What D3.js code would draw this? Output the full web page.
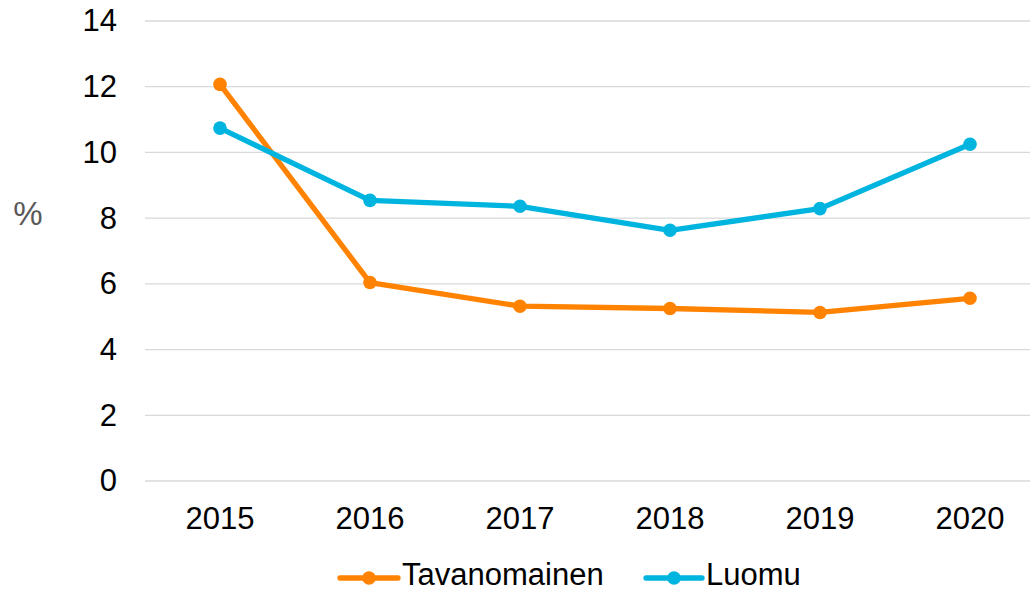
<!DOCTYPE html>
<html>
<head>
<meta charset="utf-8">
<script src="https://cdn.jsdelivr.net/npm/d3@7"></script>
<style>
  body { margin: 0; background: #fff; }
  text { font-family: "Liberation Sans", Arial, sans-serif; }
</style>
</head>
<body>
<svg id="chart"></svg>
<script>
const years = ['2015', '2016', '2017', '2018', '2019', '2020'];
const tavanomainen = [12.07, 6.04, 5.32, 5.25, 5.13, 5.56];
const luomu = [10.74, 8.54, 8.36, 7.63, 8.29, 10.25];
const yTicks = [0, 2, 4, 6, 8, 10, 12, 14];
const seriesNames = ['Tavanomainen', 'Luomu'];
const seriesColors = ['#FF8300', '#00B4E0'];

(function() {
  const svgDim = { w: 1030, h: 592 },
    margin = { l: 145, r: 0, t: 21, b: 111 },
    fontSize = 31,
    $svg = d3.select('#chart').attr('width', svgDim.w).attr('height', svgDim.h);

  const xScale = d3.scaleBand()
      .domain(years)
      .range([margin.l, 1045]),
    yScale = d3.scaleLinear()
      .domain([0, 14])
      .range([svgDim.h - margin.b, margin.t]);

  // gridlines
  $svg.append('g').selectAll('line')
    .data(yTicks)
    .enter()
    .append('line')
    .attr('x1', margin.l)
    .attr('x2', svgDim.w)
    .attr('y1', (d) => yScale(d))
    .attr('y2', (d) => yScale(d))
    .attr('stroke', '#d9d9d9')
    .attr('stroke-width', 1.3);

  // y axis labels
  const yAxis = $svg.append('g')
    .attr('transform', 'translate(117, 0)')
    .call(d3.axisLeft(yScale).tickValues(yTicks).tickSize(0).tickPadding(0));
  yAxis.select('.domain').remove();
  yAxis.selectAll('text')
    .attr('font-size', fontSize)
    .attr('font-family', '"Liberation Sans", Arial, sans-serif')
    .attr('fill', '#000');

  // x axis labels
  const xAxis = $svg.append('g')
    .attr('transform', 'translate(0, ' + (svgDim.h - margin.b) + ')')
    .call(d3.axisBottom(xScale).tickSize(0).tickPadding(26));
  xAxis.select('.domain').remove();
  xAxis.selectAll('text')
    .attr('font-size', fontSize)
    .attr('font-family', '"Liberation Sans", Arial, sans-serif')
    .attr('fill', '#000');

  // y axis title
  $svg.append('text')
    .text('%')
    .attr('x', 28)
    .attr('y', 225)
    .attr('text-anchor', 'middle')
    .attr('font-size', 33)
    .attr('fill', '#595959');

  const line = d3.line()
    .x((d, i) => xScale(years[i]) + xScale.bandwidth() / 2)
    .y((d) => yScale(d));

  [tavanomainen, luomu].forEach((values, k) => {
    const g = $svg.append('g');
    g.append('path')
      .datum(values)
      .attr('d', line)
      .attr('fill', 'none')
      .attr('stroke', seriesColors[k])
      .attr('stroke-width', 5.3)
      .attr('stroke-linejoin', 'round');
    g.selectAll('circle')
      .data(values)
      .enter()
      .append('circle')
      .attr('cx', (d, i) => xScale(years[i]) + xScale.bandwidth() / 2)
      .attr('cy', (d) => yScale(d))
      .attr('r', 6.8)
      .attr('fill', seriesColors[k]);
  });

  // legend
  const legendItems = [[340, 402], [646, 706]];
  const $legend = $svg.append('g');
  seriesNames.forEach((name, k) => {
    const x0 = legendItems[k][0], x1 = legendItems[k][1] - 4;
    $legend.append('line')
      .attr('x1', x0).attr('x2', x1)
      .attr('y1', 578).attr('y2', 578)
      .attr('stroke', seriesColors[k])
      .attr('stroke-width', 5.3)
      .attr('stroke-linecap', 'round');
    $legend.append('circle')
      .attr('cx', (x0 + x1) / 2)
      .attr('cy', 578)
      .attr('r', 6.8)
      .attr('fill', seriesColors[k]);
    $legend.append('text')
      .text(name)
      .attr('x', legendItems[k][1])
      .attr('y', 585)
      .attr('font-size', fontSize)
      .attr('fill', '#000');
  });
})();
</script>
</body>
</html>
